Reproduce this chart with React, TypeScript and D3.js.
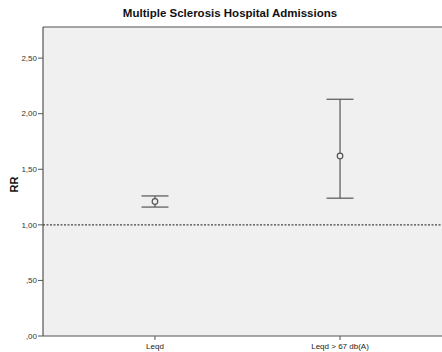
import React from "react";
import * as d3 from "d3";

const categories = ["Leqd", "Leqd > 67 db(A)"];
const rr = [1.21, 1.62];
const lower = [1.16, 1.24];
const upper = [1.26, 2.13];
const yTicks = [0, 0.5, 1, 1.5, 2, 2.5];
const refLine = 1;

const App = () => {
  const width = 442,
    height = 352;
  const plot = { left: 43, top: 27, right: 452, bottom: 336 };
  const lineColor = "#555";

  const getX = d3
    .scalePoint<string>()
    .domain(categories)
    .range([plot.left, plot.right])
    .padding(0.605);

  const getY = d3.scaleLinear().domain([0, 2.78]).range([plot.bottom, plot.top]);

  const fmt = (v: number) => {
    const s = d3.format(".2f")(v).replace(".", ",");
    return v < 1 ? s.replace(/^0/, "") : s;
  };

  const capW = 13.5;

  return (
    <svg
      width={width}
      height={height}
      style={{ position: "absolute", left: 0, top: 0, fontFamily: "Arial, Liberation Sans, sans-serif" }}
    >
      <rect x={0} y={0} width={width} height={height} fill="#fff" />
      <rect
        x={plot.left}
        y={plot.top}
        width={plot.right - plot.left}
        height={plot.bottom - plot.top}
        fill="#f0f0f0"
      />
      <line x1={plot.left} x2={width} y1={plot.top} y2={plot.top} stroke="#888" strokeWidth={1.5} />
      <line x1={plot.left} x2={plot.left} y1={plot.top} y2={plot.bottom} stroke={lineColor} strokeWidth={1.2} />
      <line x1={plot.left} x2={width} y1={plot.bottom} y2={plot.bottom} stroke={lineColor} strokeWidth={1.2} />

      {yTicks.map((t) => (
        <g key={t}>
          <line x1={plot.left - 5} x2={plot.left} y1={getY(t)} y2={getY(t)} stroke={lineColor} />
          <text x={plot.left - 6} y={getY(t)} dy="0.35em" textAnchor="end" fontSize={8} fill="#333">
            {fmt(t)}
          </text>
        </g>
      ))}

      {categories.map((c) => (
        <g key={c}>
          <line x1={getX(c)} x2={getX(c)} y1={plot.bottom} y2={plot.bottom + 4} stroke={lineColor} />
          <text x={getX(c)} y={plot.bottom + 13} textAnchor="middle" fontSize={8} fill="#222">
            {c}
          </text>
        </g>
      ))}

      <line
        x1={plot.left}
        x2={width}
        y1={getY(refLine)}
        y2={getY(refLine)}
        stroke="#444"
        strokeWidth={1.2}
        strokeDasharray="2,1.5"
      />

      {categories.map((c, i) => {
        const x = getX(c) as number;
        return (
          <g key={c} stroke={lineColor} strokeWidth={1.2} fill="none">
            <line x1={x} x2={x} y1={getY(lower[i])} y2={getY(upper[i])} />
            <line x1={x - capW} x2={x + capW} y1={getY(upper[i])} y2={getY(upper[i])} />
            <line x1={x - capW} x2={x + capW} y1={getY(lower[i])} y2={getY(lower[i])} />
            <circle cx={x} cy={getY(rr[i])} r={2.8} fill="#f0f0f0" />
          </g>
        );
      })}

      <text x={230} y={17} textAnchor="middle" fontSize={11.5} fontWeight="bold" fill="#111">
        Multiple Sclerosis Hospital Admissions
      </text>
      <text
        transform={`translate(18,${(plot.top + plot.bottom) / 2 + 3}) rotate(-90)`}
        textAnchor="middle"
        fontSize={11}
        fontWeight="bold"
        fill="#111"
      >
        RR
      </text>
    </svg>
  );
};

export default App;
